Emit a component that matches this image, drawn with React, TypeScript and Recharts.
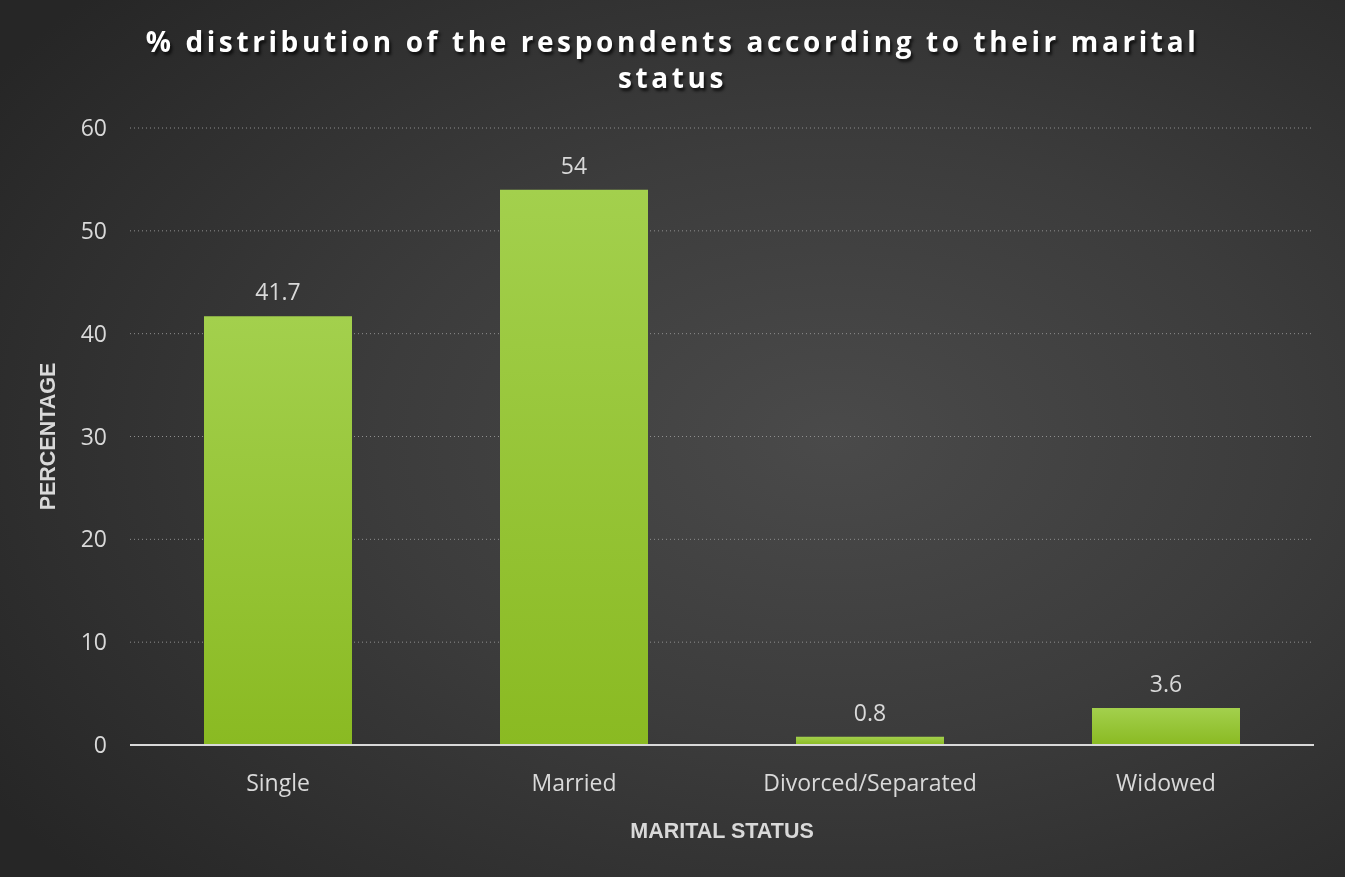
import { BarChart, Bar, XAxis, YAxis, CartesianGrid, LabelList } from "recharts";

const categories = ["Single", "Married", "Divorced/Separated", "Widowed"];
const percentages = [41.7, 54, 0.8, 3.6];
const yTicks = [0, 10, 20, 30, 40, 50, 60];

const data = categories.map((status, i) => ({ status, pct: percentages[i] }));

const FONT = "'Open Sans', 'Noto Sans', sans-serif";
const TEXT = "#d9d9d9";

function YTitle(props: any) {
  const { viewBox } = props;
  const cx = viewBox.x + 48;
  const cy = viewBox.y + viewBox.height / 2;
  return (
    <text
      x={cx}
      y={cy}
      transform={`rotate(-90 ${cx} ${cy})`}
      textAnchor="middle"
      dominantBaseline="central"
      fill={TEXT}
      fontFamily="'Liberation Sans', Arial, sans-serif"
      fontWeight="bold"
      fontSize={21.5}
    >
      PERCENTAGE
    </text>
  );
}

function XTitle(props: any) {
  const { viewBox } = props;
  return (
    <text
      x={viewBox.x + viewBox.width / 2}
      y={viewBox.y + 86}
      textAnchor="middle"
      dominantBaseline="central"
      fill={TEXT}
      fontFamily="'Liberation Sans', Arial, sans-serif"
      fontWeight="bold"
      fontSize={21.5}
    >
      MARITAL STATUS
    </text>
  );
}

export default function App() {
  return (
    <div
      style={{
        position: "fixed",
        left: 0,
        top: 0,
        width: 1345,
        height: 877,
        background:
          "radial-gradient(ellipse 75% 75% at 62% 50%, #4a4a4a 0%, #3c3c3c 45%, #262626 100%)",
      }}
    >
      <div
        style={{
          position: "absolute",
          left: 0,
          top: 23,
          width: 1345,
          textAlign: "center",
          color: "#ffffff",
          fontFamily: FONT,
          fontWeight: 700,
          fontSize: 28,
          letterSpacing: 3.6,
          lineHeight: "36px",
          textShadow: "2px 3px 3px rgba(0,0,0,0.7)",
        }}
      >
        <div style={{ width: 1080, margin: "0 auto" }}>
          % distribution of the respondents according to their marital status
        </div>
      </div>
      <BarChart
        width={1345}
        height={877}
        data={data}
        margin={{ top: 128, right: 31, bottom: 0, left: 0 }}
        barCategoryGap="25%"
      >
        <defs>
          <linearGradient id="barFill" x1="0" y1="0" x2="0" y2="1">
            <stop offset="0%" stopColor="#a3d04d" />
            <stop offset="100%" stopColor="#8aba22" />
          </linearGradient>
        </defs>
        <CartesianGrid
          vertical={false}
          stroke="#8f8f8f"
          strokeDasharray="1 3"
          horizontalValues={yTicks.slice(1)}
        />
        <XAxis
          dataKey="status"
          height={132}
          tickLine={false}
          axisLine={{ stroke: "#d9d9d9", strokeWidth: 2 }}
          tickMargin={24}
          tick={{ fill: TEXT, fontSize: 23, fontFamily: FONT }}
          label={<XTitle />}
        />
        <YAxis
          width={130}
          domain={[0, 60]}
          ticks={yTicks}
          axisLine={false}
          tickLine={false}
          tickMargin={17}
          tick={{ fill: TEXT, fontSize: 23, fontFamily: FONT }}
          label={<YTitle />}
        />
        <Bar dataKey="pct" fill="url(#barFill)" isAnimationActive={false}>
          <LabelList
            dataKey="pct"
            position="top"
            offset={16}
            fill={TEXT}
            fontSize={23}
            fontFamily={FONT}
          />
        </Bar>
      </BarChart>
    </div>
  );
}
